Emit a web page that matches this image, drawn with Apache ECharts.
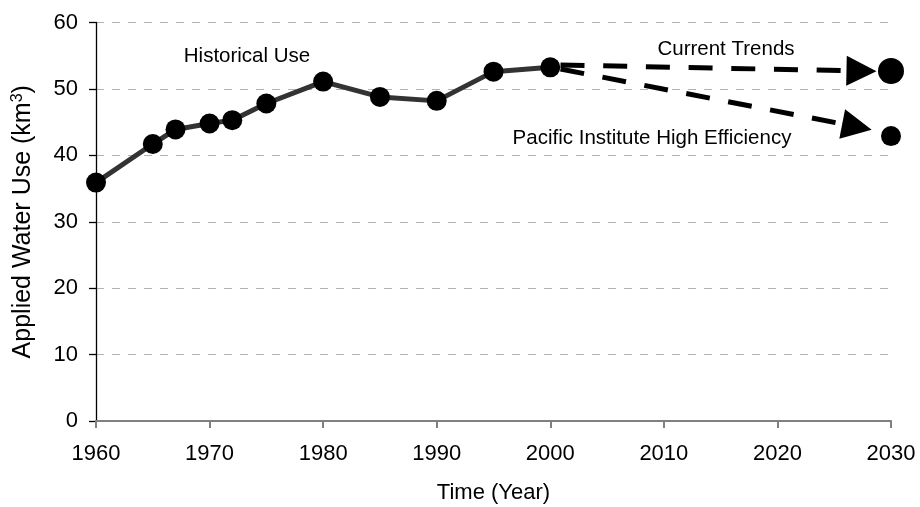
<!DOCTYPE html>
<html>
<head>
<meta charset="utf-8">
<script src="https://cdn.jsdelivr.net/npm/echarts@6/dist/echarts.min.js"></script>
<style>html,body{margin:0;padding:0;background:#fff;}#c{width:920px;height:507px;}</style>
</head>
<body>
<div id="c"></div>
<script>
const histYears = [1960, 1965, 1967, 1970, 1972, 1975, 1980, 1985, 1990, 1995, 2000];
const histValues = [35.9, 41.7, 43.9, 44.8, 45.3, 47.8, 51.1, 48.8, 48.2, 52.6, 53.25];
const currentTrends2030 = [2030, 52.7];
const highEfficiency2030 = [2030, 42.9];
const currentTrendsArrow = [[2000.9, 53.6], [2027.4, 52.7]];
const highEfficiencyArrow = [[2000.9, 53.0], [2027.0, 44.3]];
const xTicks = [1960, 1970, 1980, 1990, 2000, 2010, 2020, 2030];
const yTicks = [0, 10, 20, 30, 40, 50, 60];
const annotations = [
  {text: 'Historical Use', x: 247, y: 56},
  {text: 'Current Trends', x: 726, y: 49},
  {text: 'Pacific Institute High Efficiency', x: 652, y: 138}
];

const FONT = '"Liberation Sans", Arial, sans-serif';
const chart = echarts.init(document.getElementById('c'), null, {renderer: 'canvas'});
chart.setOption({
  animation: false,
  backgroundColor: '#fff',
  grid: {left: 96, right: 29, top: 22.5, bottom: 86, containLabel: false, outerBoundsMode: 'none'},
  xAxis: {
    type: 'value',
    min: xTicks[0], max: xTicks[xTicks.length - 1], interval: 10,
    name: 'Time (Year)', nameLocation: 'middle', nameGap: 61,
    nameTextStyle: {fontFamily: FONT, fontSize: 22, color: '#000'},
    axisLine: {show: true, onZero: false, lineStyle: {color: '#808080', width: 2}},
    axisTick: {show: true, length: 7, lineStyle: {color: '#808080', width: 2}},
    axisLabel: {fontFamily: FONT, fontSize: 22, color: '#000', margin: 22, formatter: v => String(v)},
    splitLine: {show: false}
  },
  yAxis: {
    type: 'value',
    min: yTicks[0], max: yTicks[yTicks.length - 1], interval: 10,
    name: '{a|Applied Water Use (km}{s|3}{a|)}', nameLocation: 'middle', nameGap: 60,
    nameTextStyle: {
      rich: {
        a: {fontFamily: FONT, fontSize: 25, color: '#000'},
        s: {fontFamily: FONT, fontSize: 16, color: '#000', verticalAlign: 'top', lineHeight: 26}
      }
    },
    axisLine: {show: true, onZero: false, lineStyle: {color: '#000', width: 1.3}},
    axisTick: {show: true, length: 7, lineStyle: {color: '#000', width: 1.3}},
    axisLabel: {fontFamily: FONT, fontSize: 22, color: '#000', margin: 18},
    splitLine: {show: true, lineStyle: {color: '#b3b3b3', type: [8, 8], width: 1}}
  },
  series: [
    {
      type: 'line',
      data: histYears.map((y, i) => [y, histValues[i]]),
      symbol: 'circle', symbolSize: 20,
      lineStyle: {color: '#333', width: 5},
      itemStyle: {color: '#000', opacity: 1},
      z: 3
    },
    {
      type: 'lines',
      coordinateSystem: 'cartesian2d',
      symbol: ['none', 'triangle'],
      symbolSize: 30,
      lineStyle: {color: '#000', width: 5, type: [24, 18.7], opacity: 1},
      data: [{coords: currentTrendsArrow}, {coords: highEfficiencyArrow}],
      z: 2
    },
    {
      type: 'scatter',
      data: [currentTrends2030],
      symbol: 'circle', symbolSize: 26,
      itemStyle: {color: '#000', opacity: 1}
    },
    {
      type: 'scatter',
      data: [highEfficiency2030],
      symbol: 'circle', symbolSize: 20,
      itemStyle: {color: '#000', opacity: 1}
    }
  ],
  graphic: annotations.map(a => ({
    type: 'text', x: a.x, y: a.y,
    style: {text: a.text, fontFamily: FONT, fontSize: 20.5, fill: '#000', align: 'center', verticalAlign: 'middle'}
  }))
});
</script>
</body>
</html>
